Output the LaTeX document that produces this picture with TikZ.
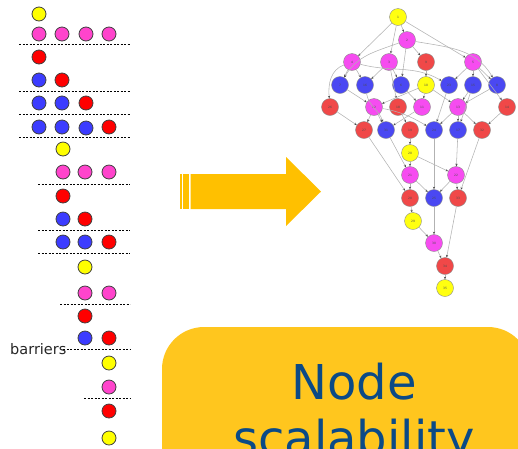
\documentclass[tikz,border=0pt]{standalone}
\usepackage{fontspec}
\setmainfont{DejaVu Sans}
\usetikzlibrary{arrows.meta}

\definecolor{tyellow}{HTML}{FFFF00}
\definecolor{tpink}{HTML}{FF44CC}
\definecolor{tred}{HTML}{FF0000}
\definecolor{tblue}{HTML}{3C3CFF}
\definecolor{gyellow}{HTML}{FFFF10}
\definecolor{gpink}{HTML}{F64CF0}
\definecolor{gred}{HTML}{F04848}
\definecolor{gblue}{HTML}{4A48F2}
\definecolor{arrowgold}{HTML}{FFC000}
\definecolor{boxgold}{HTML}{FFC61E}
\definecolor{titleblue}{HTML}{0B4A86}

\tikzset{
  task/.style={circle, draw=black!75, line width=0.8pt, minimum size=14pt, inner sep=0pt},
  barrier/.style={black, dashed, dash pattern=on 2.4pt off 1.1pt, line width=0.9pt},
  gnode/.style={circle, draw=black!45, line width=0.4pt, minimum size=17pt, inner sep=0pt,
    font=\fontsize{3}{3}\selectfont, text=black!70},
  gedge/.style={draw=black!30, line width=0.55pt, -{Stealth[length=2.6pt,width=2.2pt,black!70]}},
}

\begin{document}
\begin{tikzpicture}[x=1pt,y=-1pt]
\useasboundingbox (0,0) rectangle (518,448);

% ---- task sequence with barriers ----
\foreach \i/\x/\y/\c in {
  1/39/14/tyellow,
  2/39/34/tpink, 3/62/34/tpink, 4/86/34/tpink, 5/109/34/tpink,
  6/39/57/tred,
  7/39/80/tblue, 8/62/80/tred,
  9/39/103/tblue, 10/62/103/tblue, 11/86/103/tred,
  12/39/127/tblue, 13/62/127/tblue, 14/86/128/tblue, 15/109/127/tred,
  16/63/149/tyellow,
  17/63/172/tpink, 18/85/172/tpink, 19/109/172/tpink,
  20/63/196/tred,
  21/63/219/tblue, 22/85/219/tred,
  23/63/242/tblue, 24/85/242/tblue, 25/109/242/tred,
  26/85/267/tyellow,
  27/85/293/tpink, 28/109/293/tpink,
  29/85/316/tred,
  30/85/338/tblue, 31/109/338/tred,
  32/109/363/tyellow,
  33/109/387/tpink,
  34/109/411/tred,
  35/109/438/tyellow}
  \node[task, fill=\c] (t\i) at (\x,\y) {};

\foreach \y/\xa in {44.5/19, 91/19, 114.5/19, 137.5/19, 184/38, 230/38, 253/38,
                    304/60, 349/63, 398/84}
  \draw[barrier] (\xa,\y) -- (130,\y);

\node[anchor=base west, inner sep=0pt, text=black!85, font=\fontsize{14.5}{16}\selectfont]
  (barriers) at (10,354) {barriers};

% ---- transformation arrow ----
\fill[arrowgold] (180,174) rectangle (182,209);
\fill[arrowgold] (183.4,174) rectangle (188.6,209);
\fill[arrowgold] (190.6,174) -- (286,174) -- (286,157) -- (321,191.5)
  -- (286,226) -- (286,209) -- (190.6,209) -- cycle;

% ---- task graph ----
\foreach \n/\x/\y/\c in {
  1/398/17/gyellow,
  2/407/40/gpink,
  4/352/62/gpink, 3/389/62/gpink, 9/426/62/gred, 5/473/62/gpink,
  7/340/85/gblue, 16/365/85/gblue, 6/401/85/gblue, 10/426/85/gyellow,
  23/449/85/gblue, 15/473/85/gblue, 8/497/85/gblue,
  26/330/107/gred, 12/374/107/gpink, 18/398/107/gred, 11/422/107/gpink,
  13/458/107/gpink, 14/507/107/gred,
  27/364/130/gred, 31/386/130/gblue, 19/410/130/gred, 24/434/130/gblue,
  17/458/130/gblue, 32/482/130/gred,
  20/410/153/gyellow,
  21/410/175/gpink, 22/456/175/gpink,
  28/410/198/gred, 25/434/198/gblue, 33/458/198/gred,
  29/413/221/gyellow,
  30/434/243/gpink,
  34/445/266/gred,
  35/445/288/gyellow}
  \node[gnode, fill=\c] (g\n) at (\x,\y) {\n};

\foreach \a/\b in {1/2, 1/4, 1/3, 1/5, 2/9, 2/6, 4/7, 4/16, 3/16, 3/6, 3/18,
  9/10, 5/23, 5/15, 5/8, 5/14, 7/12, 10/12, 10/11, 10/13, 6/11, 15/13, 8/13,
  26/27, 12/27, 12/31, 11/31, 13/24, 13/17, 13/32, 14/32, 23/24, 15/17,
  18/19, 19/20, 20/21, 20/22, 31/21, 27/28, 24/25, 17/22, 32/33,
  21/28, 21/25, 22/25, 22/33, 28/29, 29/30, 25/30, 30/34, 33/34, 34/35}
  \draw[gedge] (g\a) -- (g\b);

\draw[gedge] (g2) to[out=200, in=60] (g7);
\draw[gedge] (g4) to[out=200, in=95] (g26);
\draw[gedge] (g2) to[out=-10, in=120] (g8);
\draw[gedge] (g4) to[out=-15, in=150] (g23);
\draw[gedge] (g16) to[out=-80, in=110] (g31);
\draw[gedge] (g12) to[out=-10, in=150] (g24);

% ---- caption box ----
\begin{scope}
  \clip (0,0) rectangle (518,448);
  \fill[boxgold, rounded corners=42pt] (162,327) rectangle (530,520);
  % base anchor sits on the last line's baseline
  \node[anchor=base, align=center, text=titleblue, inner sep=0pt,
        font=\fontsize{48}{56}\selectfont] (title) at (354,455) {Node\\scalability};
\end{scope}
\end{tikzpicture}
\end{document}
